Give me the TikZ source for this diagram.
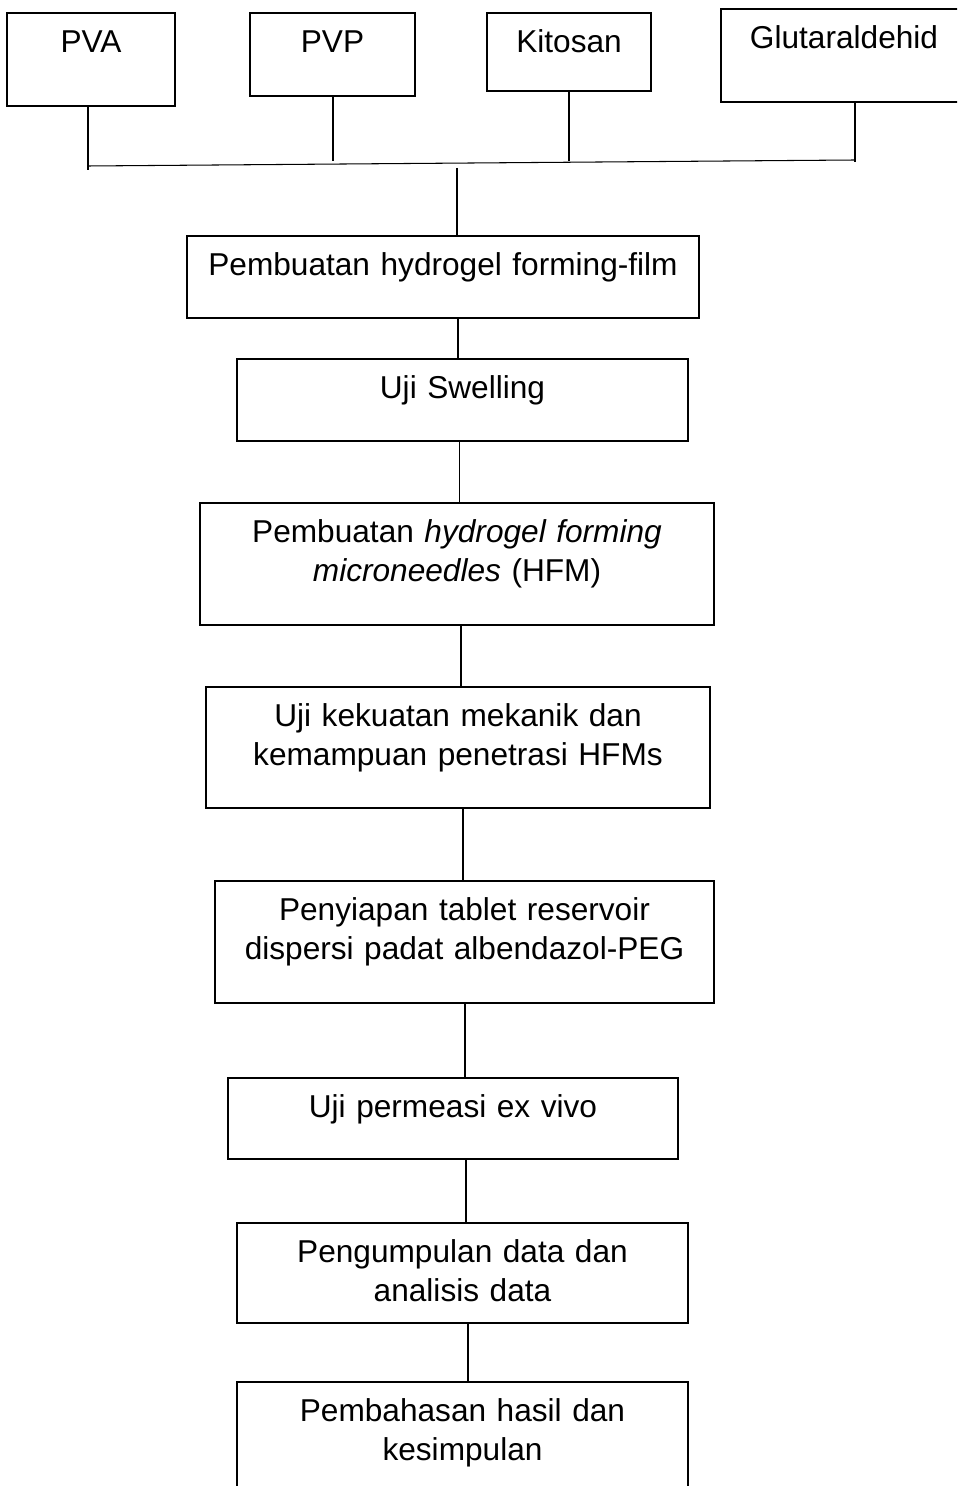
\documentclass[tikz,border=0pt]{standalone}
\usepackage{fontspec}
\setmainfont{Liberation Sans}
\usepackage{tikz}
\tikzstyle{stepbox} = [rectangle,
anchor=north,
draw=black,
line width=1pt,
inner sep=0pt,
align=center,
text height=0.8cm,
font=\fontsize{18}{22.2}\selectfont]
\tikzstyle{link} = [line width=0.6pt]

\begin{document}
\begin{tikzpicture}[x=0.02cm, y=-0.02cm]
  \clip (0,0) rectangle (957,1486);

  % bahan
  \node (pva) at (91,12) [stepbox, text width=3.36cm, text depth=1.06cm] {PVA};
  \node (pvp) at (332.5,12) [stepbox, text width=3.30cm, text depth=0.86cm] {PVP};
  \node (kitosan) at (569,12) [stepbox, text width=3.28cm, text depth=0.76cm] {Kitosan};
  \node (glut) at (844,8) [stepbox, text width=4.92cm, text depth=1.06cm] {Glutaraldehid};

  % tahapan
  \node (film) at (443,235) [stepbox, text width=10.24cm, text depth=0.84cm] {Pembuatan hydrogel forming-film};
  \node (swell) at (462.5,358) [stepbox, text width=9.02cm, text depth=0.84cm] {Uji Swelling};
  \node (hfm) at (457,502) [stepbox, text width=10.28cm, text depth=1.64cm] {Pembuatan \textit{hydrogel forming}\\\textit{microneedles} (HFM)};
  \node (kuat) at (458,686) [stepbox, text width=10.08cm, text depth=1.62cm] {Uji kekuatan mekanik dan\\kemampuan penetrasi HFMs};
  \node (tablet) at (464.5,880) [stepbox, text width=9.98cm, text depth=1.64cm] {Penyiapan tablet reservoir\\dispersi padat albendazol-PEG};
  \node (permeasi) at (453,1077) [stepbox, text width=9.0cm, text depth=0.82cm] {Uji permeasi ex vivo};
  \node (data) at (462.5,1222) [stepbox, text width=9.02cm, text depth=1.2cm] {Pengumpulan data dan\\analisis data};
  \node (hasil) at (462.5,1381) [stepbox, text width=9.02cm, text depth=1.8cm] {Pembahasan hasil dan\\kesimpulan};

  % garis penghubung bahan
  \coordinate (pvaDrop) at (88,170);
  \coordinate (pvpDrop) at (333,161);
  \coordinate (kitDrop) at (569,161);
  \coordinate (glutDrop) at (855,162);
  \coordinate (busL) at (88,166);
  \coordinate (busR) at (855,160);
  \coordinate (busMid) at (457,168);

  \draw [link] (pva.south -| pvaDrop) -- (pvaDrop);
  \draw [link] (pvp.south -| pvpDrop) -- (pvpDrop);
  \draw [link] (kitosan.south -| kitDrop) -- (kitDrop);
  \draw [link] (glut.south -| glutDrop) -- (glutDrop);
  \draw [link] (busL) -- (busR);
  \draw [link] (busMid) -- (film.north -| busMid);

  % garis antar tahapan
  \foreach \a/\b/\x in {film/swell/458, swell/hfm/459.5, hfm/kuat/461, kuat/tablet/463,
                        tablet/permeasi/465, permeasi/data/466, data/hasil/468}
  {
    \coordinate (sx) at (\x,0);
    \draw [link] (\a.south -| sx) -- (\b.north -| sx);
  }
\end{tikzpicture}
\end{document}
